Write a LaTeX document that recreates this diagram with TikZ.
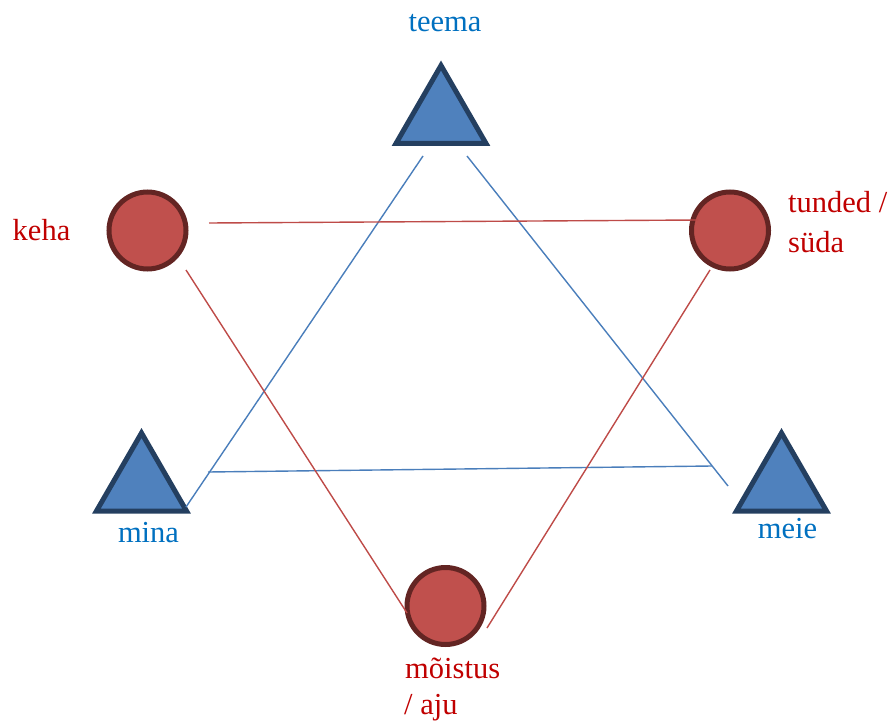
\documentclass[tikz,border=0pt]{standalone}
\usepackage{fontspec}
\setmainfont{Liberation Serif}
\usetikzlibrary{shapes.geometric}
\definecolor{triFill}{HTML}{4F81BD}
\definecolor{triEdge}{HTML}{243F60}
\definecolor{dotFill}{HTML}{C0504D}
\definecolor{dotEdge}{HTML}{632523}
\definecolor{blueLine}{HTML}{4A7EBB}
\definecolor{redLine}{HTML}{BE4B48}
\definecolor{blueText}{HTML}{0070C0}
\definecolor{redText}{HTML}{C00000}
\begin{document}
\begin{tikzpicture}[x=1pt,y=-1pt,
  tri/.style={regular polygon, regular polygon sides=3, minimum size=104pt,
    inner sep=0pt, outer sep=0pt, fill=triFill, draw=triEdge, line width=5pt},
  dot/.style={circle, minimum size=77pt, inner sep=0pt, outer sep=0pt,
    fill=dotFill, draw=dotEdge, line width=5pt},
  bluelabel/.style={inner sep=0pt, text=blueText, font=\fontsize{30.5}{39}\selectfont},
  redlabel/.style={inner sep=0pt, text=redText, font=\fontsize{30.5}{39}\selectfont},
  blueedge/.style={draw=blueLine, line width=1.4pt},
  rededge/.style={draw=redLine, line width=1.4pt}]
\useasboundingbox (0,0) rectangle (893,722);

% triangles and circles
\node[tri] (teema) at (441,117.5) {};
\node[tri] (mina) at (141.5,485) {};
\node[tri] (meie) at (781.5,485) {};
\node[dot] (keha) at (147.5,230.5) {};
\node[dot] (tunded) at (730,230.5) {};
\node[dot] (moistus) at (445.5,606) {};

% labels
\node[bluelabel, anchor=base] (lteema) at (445,32) {teema};
\node[bluelabel, anchor=base] (lmina) at (148.5,542) {mina};
\node[bluelabel, anchor=base] (lmeie) at (787.5,538) {meie};
\node[redlabel, anchor=base] (lkeha) at (41.5,240) {keha};
\node[redlabel, anchor=base west] (ltunded) at (788,212) {tunded /};
\node[redlabel, anchor=base west] (lsuda) at (788,252) {süda};
\node[redlabel, anchor=base west] (lmoistus) at (405,678) {mõistus};
\node[redlabel, anchor=base west] (laju) at (404,714) {/ aju};

% connector ends
\coordinate (tA) at (423,156);
\coordinate (tB) at (467,156);
\coordinate (mA) at (186,507);
\coordinate (mB) at (208,472);
\coordinate (eA) at (728,486);
\coordinate (eB) at (712,466);
\coordinate (kA) at (209,223);
\coordinate (kB) at (186,270);
\coordinate (uA) at (698,220);
\coordinate (uB) at (710,270);
\coordinate (oA) at (407,613);
\coordinate (oB) at (487,628);

% blue triangle
\draw[blueedge] (tA) -- (mA);
\draw[blueedge] (tB) -- (eA);
\draw[blueedge] (mB) -- (eB);
% red triangle
\draw[rededge] (kA) -- (uA);
\draw[rededge] (kB) -- (oA);
\draw[rededge] (uB) -- (oB);
\end{tikzpicture}
\end{document}
